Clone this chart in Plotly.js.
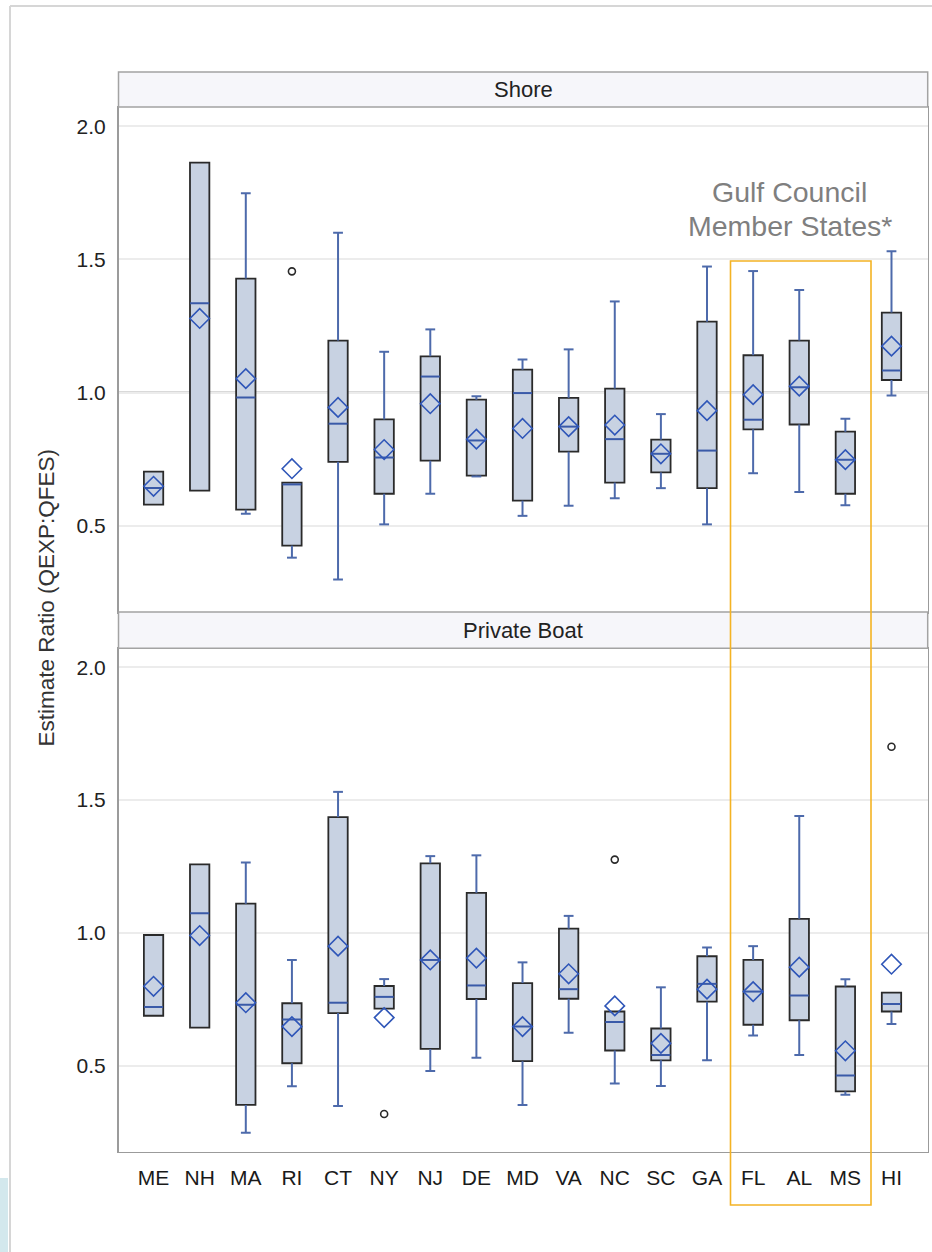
<!DOCTYPE html>
<html>
<head>
<meta charset="utf-8">
<script src="https://cdn.plot.ly/plotly-3.0.1.min.js"></script>
<style>
  html, body { margin: 0; padding: 0; background: #ffffff; }
  #chart { width: 932px; height: 1252px; }
</style>
</head>
<body>
<div id="chart"></div>
<script>
// ---------- data ----------
const states = ['ME','NH','MA','RI','CT','NY','NJ','DE','MD','VA','NC','SC','GA','FL','AL','MS','HI'];

// Shore panel
const shoreQ1   = [0.579, 0.632, 0.560, 0.425, 0.740, 0.620, 0.744, 0.688, 0.594, 0.778, 0.662, 0.700, 0.641, 0.862, 0.880, 0.620, 1.047];
const shoreMed  = [0.642, 1.335, 0.981, 0.655, 0.883, 0.756, 1.060, 0.820, 0.998, 0.872, 0.825, 0.770, 0.782, 0.898, 1.020, 0.748, 1.083];
const shoreQ3   = [0.703, 1.863, 1.428, 0.662, 1.195, 0.899, 1.136, 0.973, 1.086, 0.980, 1.015, 0.823, 1.266, 1.140, 1.195, 0.853, 1.300];
const shoreLo   = [0.579, 0.632, 0.545, 0.380, 0.298, 0.505, 0.620, 0.685, 0.537, 0.575, 0.603, 0.641, 0.505, 0.697, 0.627, 0.577, 0.989];
const shoreHi   = [0.703, 1.863, 1.748, 0.662, 1.600, 1.153, 1.237, 0.986, 1.124, 1.162, 1.342, 0.919, 1.473, 1.456, 1.385, 0.902, 1.530];
const shoreMean = [0.648, 1.278, 1.052, 0.714, 0.944, 0.786, 0.958, 0.825, 0.865, 0.872, 0.878, 0.770, 0.932, 0.992, 1.024, 0.748, 1.174];
const shoreOutState = ['RI'];
const shoreOutVal   = [1.455];

// Private Boat panel
const boatQ1   = [0.688, 0.643, 0.352, 0.509, 0.698, 0.715, 0.563, 0.751, 0.517, 0.752, 0.557, 0.520, 0.741, 0.654, 0.671, 0.403, 0.704];
const boatMed  = [0.721, 1.074, 0.729, 0.674, 0.737, 0.759, 0.898, 0.802, 0.647, 0.788, 0.664, 0.540, 0.808, 0.779, 0.764, 0.463, 0.732];
const boatQ3   = [0.992, 1.258, 1.110, 0.735, 1.436, 0.800, 1.262, 1.151, 0.811, 1.016, 0.704, 0.640, 0.912, 0.898, 1.053, 0.798, 0.775];
const boatLo   = [0.688, 0.643, 0.247, 0.422, 0.348, 0.715, 0.480, 0.530, 0.352, 0.624, 0.433, 0.423, 0.520, 0.614, 0.540, 0.390, 0.657];
const boatHi   = [0.992, 1.258, 1.265, 0.898, 1.531, 0.826, 1.289, 1.292, 0.889, 1.064, 0.704, 0.795, 0.945, 0.950, 1.440, 0.825, 0.775];
const boatMean = [0.799, 0.990, 0.737, 0.647, 0.950, 0.681, 0.898, 0.905, 0.647, 0.846, 0.725, 0.584, 0.788, 0.779, 0.871, 0.556, 0.882];
const boatOutState = ['NY', 'NC', 'HI'];
const boatOutVal   = [0.318, 1.276, 1.701];

const panelNames = ['Shore', 'Private Boat'];
const yTickVals  = [0.5, 1.0, 1.5, 2.0];
const yTickText  = ['0.5', '1.0', '1.5', '2.0'];
const yTitle     = 'Estimate Ratio (QEXP:QFES)';
const gulfLabel  = ['Gulf Council', 'Member States*'];

// ---------- styling ----------
const FONT = 'Liberation Sans, Arial, Helvetica, sans-serif';
const BOX_FILL = '#c8d2e2';
const BOX_LINE = '#2a2a2a';
const WHISK = '#4d6aab';
const MED = '#3a5aa8';
const MEAN = '#2f56b8';

function panelTraces(q1, med, q3, lo, hi, mean, outS, outV, xa, ya) {
  const tr = [];
  // boxes
  tr.push({
    type: 'bar', x: states, base: q1, y: q3.map((v, i) => v - q1[i]),
    width: 0.42, xaxis: xa, yaxis: ya,
    marker: { color: BOX_FILL, line: { color: BOX_LINE, width: 1.8 } },
    hoverinfo: 'skip', showlegend: false
  });
  // whiskers
  const wx = [], wy = [], cx = [], cy = [];
  states.forEach((s, i) => {
    if (hi[i] > q3[i] + 0.001) { wx.push(s, s, null); wy.push(q3[i], hi[i], null); cx.push(s); cy.push(hi[i]); }
    if (lo[i] < q1[i] - 0.001) { wx.push(s, s, null); wy.push(q1[i], lo[i], null); cx.push(s); cy.push(lo[i]); }
  });
  tr.push({
    type: 'scatter', mode: 'lines', x: wx, y: wy, xaxis: xa, yaxis: ya,
    line: { color: WHISK, width: 2 }, connectgaps: false,
    hoverinfo: 'skip', showlegend: false
  });
  tr.push({
    type: 'scatter', mode: 'markers', x: cx, y: cy, xaxis: xa, yaxis: ya,
    marker: { symbol: 'line-ew', size: 7, line: { color: WHISK, width: 2 } },
    hoverinfo: 'skip', showlegend: false
  });
  // medians
  tr.push({
    type: 'scatter', mode: 'markers', x: states, y: med, xaxis: xa, yaxis: ya,
    marker: { symbol: 'line-ew', size: 13.6, line: { color: MED, width: 2 } },
    hoverinfo: 'skip', showlegend: false
  });
  // means
  tr.push({
    type: 'scatter', mode: 'markers', x: states, y: mean, xaxis: xa, yaxis: ya,
    marker: { symbol: 'diamond-open', size: 15, color: MEAN, line: { color: MEAN, width: 1.6 } },
    hoverinfo: 'skip', showlegend: false
  });
  // outliers
  tr.push({
    type: 'scatter', mode: 'markers', x: outS, y: outV, xaxis: xa, yaxis: ya,
    marker: { symbol: 'circle-open', size: 7, color: '#2a2a2a', line: { color: '#2a2a2a', width: 1.6 } },
    hoverinfo: 'skip', showlegend: false
  });
  return tr;
}

const data = [].concat(
  panelTraces(shoreQ1, shoreMed, shoreQ3, shoreLo, shoreHi, shoreMean, shoreOutState, shoreOutVal, 'x2', 'y'),
  panelTraces(boatQ1, boatMed, boatQ3, boatLo, boatHi, boatMean, boatOutState, boatOutVal, 'x', 'y2')
);

// ---------- geometry (pixels -> paper) ----------
const W = 932, H = 1252;
const px = v => v / W;
const py = v => 1 - v / H;
const xDom = [px(118.5), px(927.7)];
const xRange = [-0.76, 16.785];
const yRange = [0.176, 2.072];

const yAxisCommon = {
  range: yRange, tickvals: yTickVals, ticktext: yTickText,
  showgrid: true, gridcolor: '#ececec', gridwidth: 2, zeroline: false,
  showline: true, mirror: true, linecolor: '#9b9b9b', linewidth: 1.5,
  ticks: 'outside', ticklen: 7, tickcolor: 'rgba(0,0,0,0)',
  tickfont: { family: FONT, size: 21, color: '#222222' }
};
const xAxisCommon = {
  type: 'category', categoryorder: 'array', categoryarray: states,
  range: xRange, domain: xDom, showgrid: false, zeroline: false,
  showline: true, mirror: true, linecolor: '#9b9b9b', linewidth: 1.5,
  fixedrange: true
};

const layout = {
  width: W, height: H,
  margin: { l: 0, r: 0, t: 0, b: 0 },
  paper_bgcolor: '#ffffff', plot_bgcolor: '#ffffff',
  showlegend: false, barmode: 'overlay',
  font: { family: FONT, color: '#222222' },
  xaxis: Object.assign({}, xAxisCommon, {
    anchor: 'y2', showticklabels: true,
    ticks: 'outside', ticklen: 7, tickcolor: 'rgba(0,0,0,0)',
    tickfont: { family: FONT, size: 21, color: '#1a1a1a' }
  }),
  xaxis2: Object.assign({}, xAxisCommon, { anchor: 'y', showticklabels: false, ticks: '' }),
  yaxis: Object.assign({}, yAxisCommon, { anchor: 'x2', domain: [py(612), py(107)] }),
  yaxis2: Object.assign({}, yAxisCommon, { anchor: 'x', domain: [py(1151.7), py(648.2)] }),
  shapes: [
    // outer frame
    { type: 'line', xref: 'paper', yref: 'paper', x0: px(10), x1: px(10), y0: 0, y1: py(6), line: { color: '#d6d6d6', width: 2 } },
    { type: 'line', xref: 'paper', yref: 'paper', x0: px(10), x1: 1, y0: py(6), y1: py(6), line: { color: '#d6d6d6', width: 2 } },
    { type: 'rect', xref: 'paper', yref: 'paper', x0: 0, x1: px(8), y0: 0, y1: py(1178), fillcolor: '#d3e8ed', line: { width: 0 } },
    // panel header strips
    { type: 'rect', xref: 'paper', yref: 'paper', x0: xDom[0], x1: xDom[1], y0: py(107), y1: py(72), fillcolor: '#f6f6fa', line: { color: '#a3a3a3', width: 1.5 } },
    { type: 'rect', xref: 'paper', yref: 'paper', x0: xDom[0], x1: xDom[1], y0: py(648.2), y1: py(612), fillcolor: '#f6f6fa', line: { color: '#a3a3a3', width: 1.5 } },
    // reference lines at 1.0
    { type: 'line', xref: 'x2 domain', yref: 'y', x0: 0, x1: 1, y0: 1, y1: 1, layer: 'below', line: { color: '#b3b3b3', width: 2 } },
    { type: 'line', xref: 'x domain', yref: 'y2', x0: 0, x1: 1, y0: 1, y1: 1, layer: 'below', line: { color: '#b3b3b3', width: 2 } },
    // Gulf Council highlight box
    { type: 'rect', xref: 'paper', yref: 'paper', x0: px(730.5), x1: px(871), y0: py(1205), y1: py(261), layer: 'above', line: { color: '#f4b324', width: 1.6 } }
  ],
  annotations: [
    { text: panelNames[0], xref: 'paper', yref: 'paper', x: (xDom[0] + xDom[1]) / 2, y: py(89.5), xanchor: 'center', yanchor: 'middle', showarrow: false, font: { family: FONT, size: 22, color: '#222222' } },
    { text: panelNames[1], xref: 'paper', yref: 'paper', x: (xDom[0] + xDom[1]) / 2, y: py(630), xanchor: 'center', yanchor: 'middle', showarrow: false, font: { family: FONT, size: 22, color: '#222222' } },
    { text: yTitle, xref: 'paper', yref: 'paper', x: px(46), y: py(597.5), xanchor: 'center', yanchor: 'middle', textangle: -90, showarrow: false, font: { family: FONT, size: 22.5, color: '#333333' } },
    { text: gulfLabel[0], xref: 'paper', yref: 'paper', x: px(789.5), y: py(192), xanchor: 'center', yanchor: 'middle', showarrow: false, font: { family: FONT, size: 28.5, color: '#7f7f7f' } },
    { text: gulfLabel[1], xref: 'paper', yref: 'paper', x: px(789.5), y: py(226), xanchor: 'center', yanchor: 'middle', showarrow: false, font: { family: FONT, size: 28.5, color: '#7f7f7f' } }
  ]
};

Plotly.newPlot('chart', data, layout, { staticPlot: true, displayModeBar: false });
</script>
</body>
</html>
